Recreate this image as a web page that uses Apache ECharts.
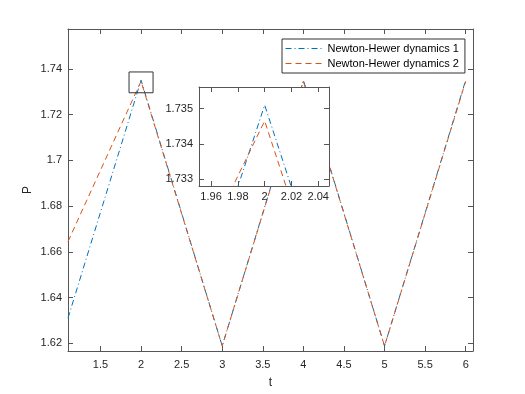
<!DOCTYPE html>
<html>
<head>
<meta charset="utf-8">
<script src="https://cdn.jsdelivr.net/npm/echarts@6/dist/echarts.min.js"></script>
<style>
  html, body { margin: 0; padding: 0; background: #fff; }
  #main { width: 525px; height: 394px; }
</style>
</head>
<body>
<div id="main"></div>
<script>
    // time points and the two Newton-Hewer trajectories
    var tValues = [1.1, 2, 3, 4, 5, 6];
    var dyn1 = [1.631, 1.7351, 1.6188, 1.7351, 1.6188, 1.7351];
    var dyn2 = [1.6645, 1.73465, 1.6188, 1.73465, 1.6188, 1.73465];
    var seriesNames = ['Newton-Hewer dynamics 1', 'Newton-Hewer dynamics 2'];

    // zoom box drawn on the main axes (data space)
    var boxT = [1.852, 2.148, 2.148, 1.852, 1.852];
    var boxP = [1.7296, 1.7296, 1.7387, 1.7387, 1.7296];

    // axis limits
    var mainX = [1.1, 6.09];
    var mainY = [1.6166, 1.7575];
    var insetX = [1.951, 2.048];
    var insetY = [1.73281, 1.73561];

    var blue = '#0072BD';
    var red = '#D95319';
    var axisColor = '#555';
    var textColor = '#262626';
    var font = 'Liberation Sans, Arial, sans-serif';

    // inset placement (pixels)
    var inset = { left: 199, top: 87, width: 130, height: 99 };

    function pairs(xs, ys) {
        return xs.map(function(x, i) {
            return [x, ys[i]];
        });
    }

    // one axis of a matlab style box, ticks pointing in
    function boxAxis(grid, pos, range, splits, labels, extra) {
        var ax = {
            type: 'value',
            gridIndex: grid,
            position: pos,
            min: range[0],
            max: range[1],
            splitNumber: splits,
            scale: true,
            splitLine: { show: false },
            axisLine: { show: true, onZero: false, lineStyle: { color: axisColor, width: 1 } },
            axisTick: { show: true, inside: true, length: 5, lineStyle: { color: axisColor } },
            axisLabel: {
                show: labels,
                color: textColor,
                fontFamily: font,
                fontSize: 11,
                showMinLabel: false,
                showMaxLabel: false
            }
        };
        for (var k in extra) ax[k] = extra[k];
        return ax;
    }

    function label(margin) {
        return {
            color: textColor, fontFamily: font, fontSize: 11, margin: margin,
            showMinLabel: false, showMaxLabel: false
        };
    }

    var chart = echarts.init(document.getElementById('main'), null, { renderer: 'canvas' });

    var option = {
        backgroundColor: '#fff',
        animation: false,
        textStyle: { fontFamily: font },
        // white panel on its own layer so the main curves hide behind the inset
        graphic: {
            elements: [{
                type: 'rect',
                left: inset.left,
                top: inset.top,
                zlevel: 1,
                z: 0,
                shape: { width: inset.width, height: inset.height },
                style: { fill: '#fff' }
            }]
        },
        legend: {
            data: seriesNames,
            orient: 'vertical',
            left: 282,
            top: 39,
            padding: [4, 6, 4, 3],
            itemWidth: 37,
            itemHeight: 10,
            itemGap: 4,
            borderColor: '#333',
            borderWidth: 1,
            backgroundColor: '#fff',
            itemStyle: { opacity: 0 },
            lineStyle: { width: 1 },
            textStyle: { color: '#000', fontSize: 11, fontFamily: font }
        },
        grid: [
            { left: 68, top: 29, right: 52, bottom: 43 },
            { left: inset.left, top: inset.top, width: inset.width, height: inset.height }
        ],
        xAxis: [
            boxAxis(0, 'bottom', mainX, 10, true, {
                name: 't', nameLocation: 'middle', nameGap: 26, nameMoveOverlap: false,
                nameTextStyle: { color: textColor, fontSize: 12, fontFamily: font },
                axisLabel: label(8)
            }),
            boxAxis(0, 'top', mainX, 10, false, {}),
            boxAxis(1, 'bottom', insetX, 5, true, { zlevel: 1, z: 4, axisLabel: label(5) }),
            boxAxis(1, 'top', insetX, 5, false, { zlevel: 1, z: 4 })
        ],
        yAxis: [
            boxAxis(0, 'left', mainY, 7, true, {
                name: 'P', nameLocation: 'middle', nameGap: 34, nameMoveOverlap: false,
                nameTextStyle: { color: textColor, fontSize: 12, fontFamily: font },
                axisLabel: label(6)
            }),
            boxAxis(0, 'right', mainY, 7, false, {}),
            boxAxis(1, 'left', insetY, 3, true, { zlevel: 1, z: 4, axisLabel: label(6) }),
            boxAxis(1, 'right', insetY, 3, false, { zlevel: 1, z: 4 })
        ],
        series: [
            {
                name: seriesNames[0], type: 'line', xAxisIndex: 0, yAxisIndex: 0,
                data: pairs(tValues, dyn1), symbol: 'none', color: blue,
                lineStyle: { color: blue, width: 1, type: [6, 3, 1, 3] }
            },
            {
                name: seriesNames[1], type: 'line', xAxisIndex: 0, yAxisIndex: 0,
                data: pairs(tValues, dyn2), symbol: 'none', color: red,
                lineStyle: { color: red, width: 1, type: [6, 4] }
            },
            {
                name: 'box', type: 'line', xAxisIndex: 0, yAxisIndex: 0,
                data: pairs(boxT, boxP), symbol: 'none', color: '#333',
                lineStyle: { color: '#333', width: 1 }
            },
            {
                name: seriesNames[0], type: 'line', xAxisIndex: 2, yAxisIndex: 2,
                zlevel: 1, z: 5,
                data: pairs(tValues, dyn1), symbol: 'none', color: blue,
                lineStyle: { color: blue, width: 1, type: [6, 3, 1, 3] }
            },
            {
                name: seriesNames[1], type: 'line', xAxisIndex: 2, yAxisIndex: 2,
                zlevel: 1, z: 5,
                data: pairs(tValues, dyn2), symbol: 'none', color: red,
                lineStyle: { color: red, width: 1, type: [6, 4] }
            }
        ]
    };

    chart.setOption(option);
</script>
</body>
</html>
